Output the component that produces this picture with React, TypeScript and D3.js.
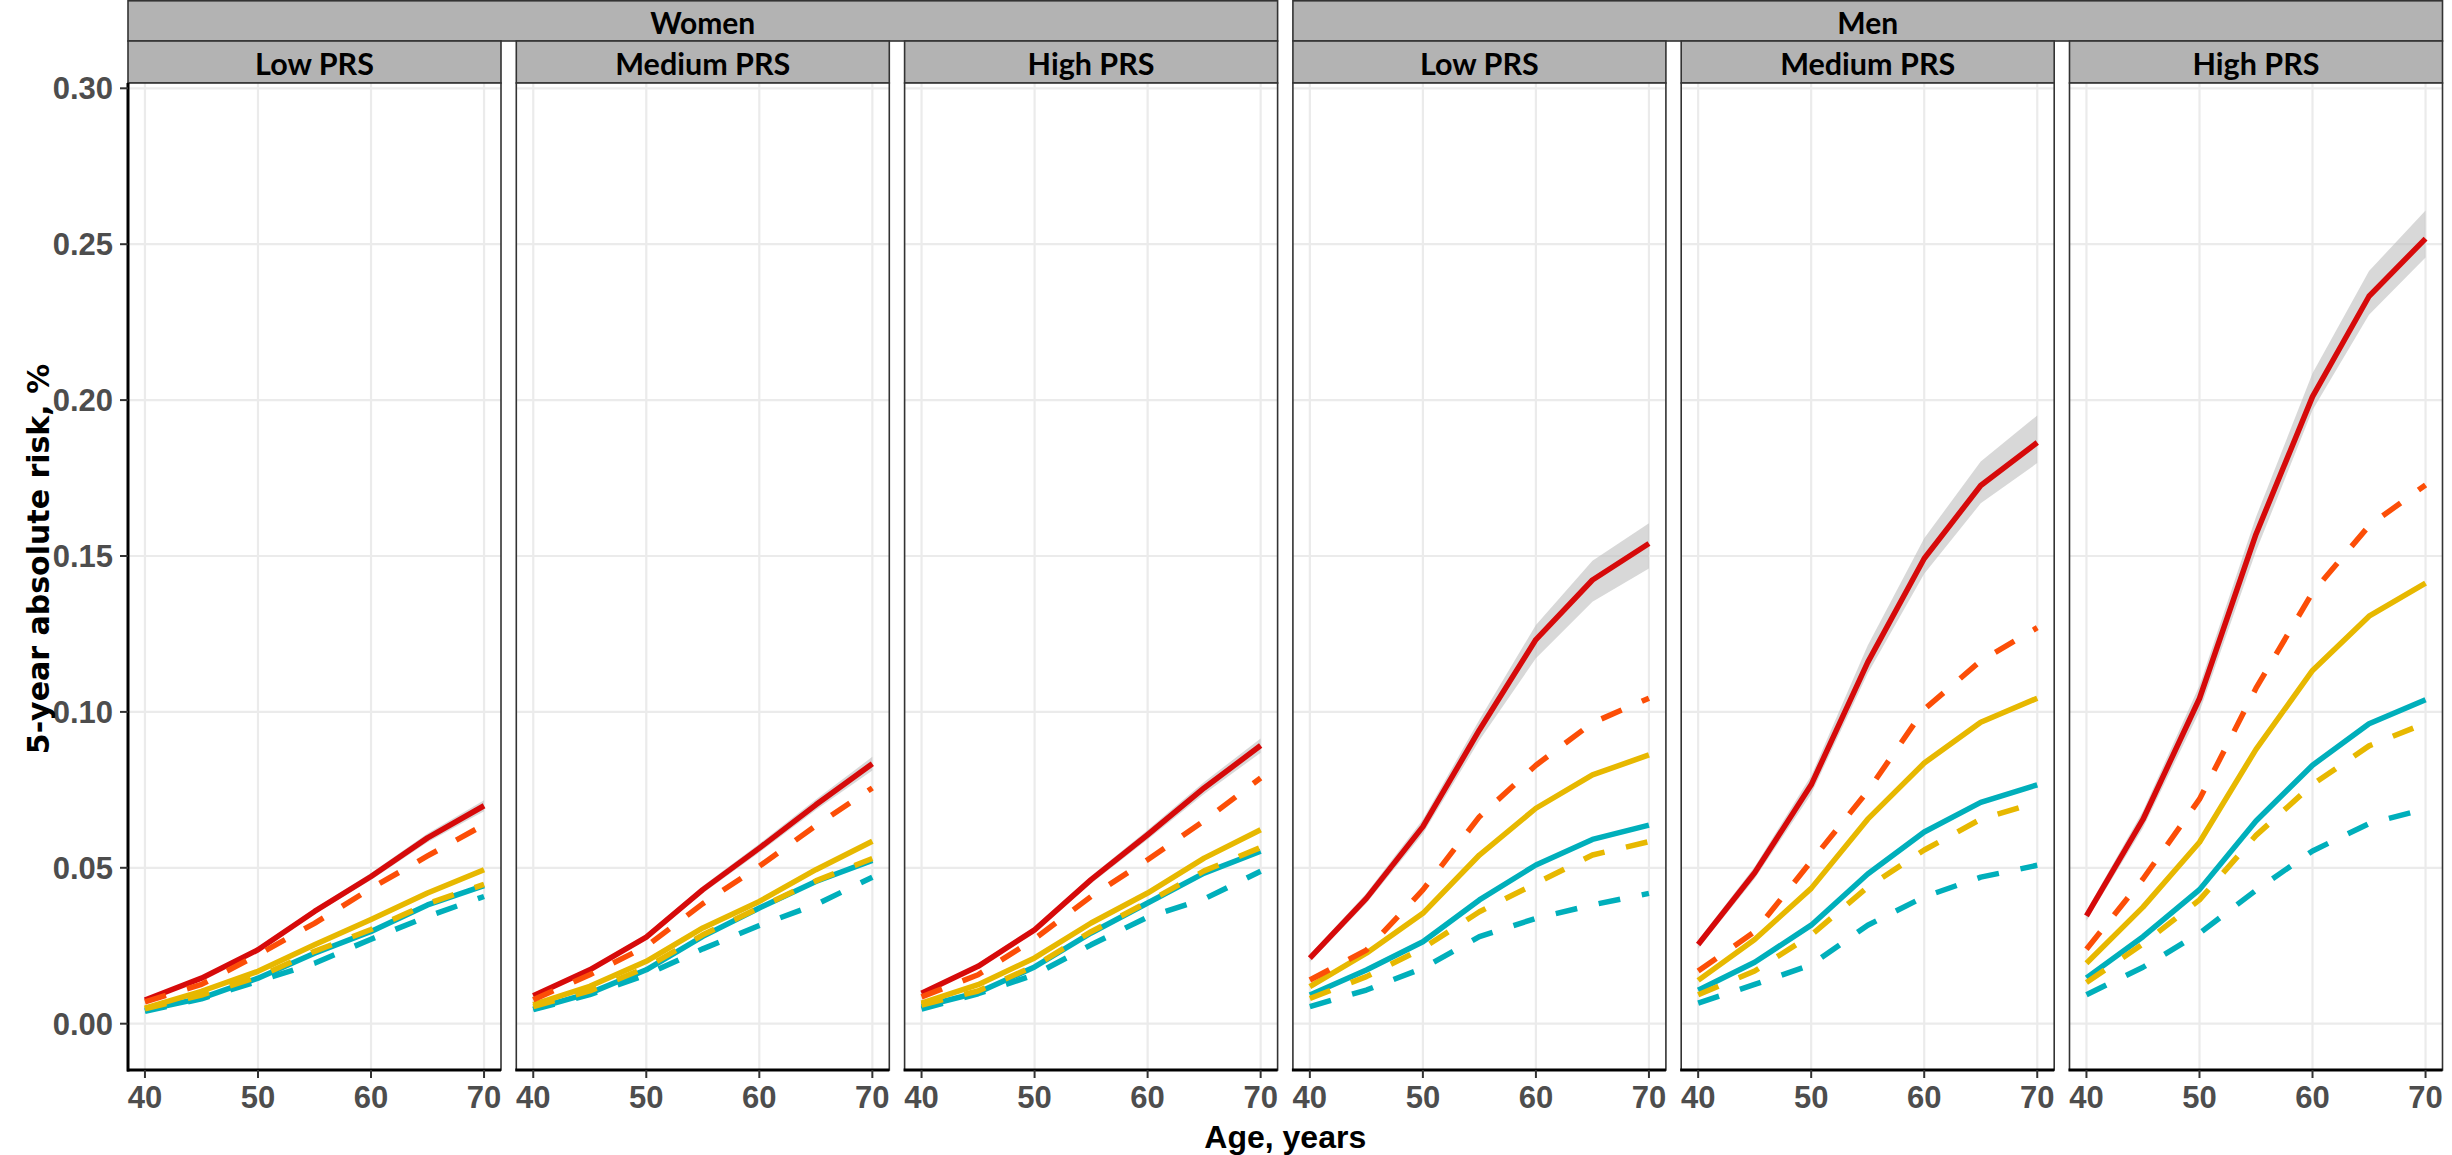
import React from 'react';
import * as d3 from 'd3';

// ages at which the 5-year risk was estimated
const ages = [40, 45, 50, 55, 60, 65, 70];
const sexes = ['Women', 'Men'];
const prsLevels = ['Low PRS', 'Medium PRS', 'High PRS'];
const xTicks = [40, 50, 60, 70];
const yTicks = [0, 0.05, 0.1, 0.15, 0.2, 0.25, 0.3];

// one row per panel: Women Low, Women Medium, Women High, Men Low, Men Medium, Men High
const redSolid = [
  [0.0076, 0.0146, 0.0237, 0.036, 0.0472, 0.0596, 0.0699],
  [0.009, 0.0173, 0.0278, 0.043, 0.0563, 0.0702, 0.0834],
  [0.0098, 0.0184, 0.0301, 0.0462, 0.0606, 0.0756, 0.0892],
  [0.021, 0.0402, 0.0632, 0.0942, 0.1232, 0.1423, 0.154],
  [0.0254, 0.0484, 0.0766, 0.1159, 0.1492, 0.1726, 0.1864],
  [0.0346, 0.0655, 0.1043, 0.157, 0.2011, 0.2333, 0.2518],
];
const redHi = [
  [0.0082, 0.0153, 0.0245, 0.0369, 0.0483, 0.061, 0.0717],
  [0.0096, 0.018, 0.0287, 0.0442, 0.0577, 0.0719, 0.0856],
  [0.0104, 0.0192, 0.031, 0.0474, 0.0621, 0.0775, 0.0915],
  [0.0222, 0.0418, 0.0655, 0.0975, 0.1279, 0.1485, 0.1605],
  [0.0268, 0.0503, 0.0795, 0.1213, 0.1557, 0.1803, 0.1951],
  [0.0362, 0.0682, 0.1085, 0.1625, 0.2086, 0.2414, 0.2608],
];
const redLo = [
  [0.0071, 0.014, 0.023, 0.0352, 0.0461, 0.0582, 0.0681],
  [0.0084, 0.0166, 0.0269, 0.0418, 0.0549, 0.0685, 0.0812],
  [0.0092, 0.0176, 0.0292, 0.045, 0.0591, 0.0737, 0.0869],
  [0.0198, 0.0386, 0.0609, 0.0909, 0.1172, 0.1353, 0.146],
  [0.024, 0.0465, 0.0737, 0.1123, 0.1443, 0.1669, 0.1798],
  [0.033, 0.0628, 0.1001, 0.1515, 0.1968, 0.2274, 0.2457],
];
const orangeDashed = [
  [0.007, 0.0126, 0.0221, 0.0322, 0.0434, 0.0538, 0.0638],
  [0.0077, 0.0157, 0.0248, 0.0385, 0.0505, 0.0635, 0.0756],
  [0.0086, 0.0157, 0.0272, 0.0408, 0.0526, 0.0651, 0.0788],
  [0.014, 0.0236, 0.0429, 0.0664, 0.0829, 0.0965, 0.1044],
  [0.0169, 0.0295, 0.0521, 0.0746, 0.1008, 0.1164, 0.127],
  [0.0239, 0.0464, 0.072, 0.1076, 0.1383, 0.1597, 0.1728],
];
const yellowSolid = [
  [0.005, 0.0104, 0.0168, 0.0253, 0.0334, 0.0419, 0.0494],
  [0.0061, 0.012, 0.02, 0.0307, 0.0392, 0.0494, 0.0585],
  [0.0066, 0.0125, 0.0211, 0.0323, 0.0419, 0.0531, 0.0622],
  [0.0119, 0.0226, 0.0354, 0.0541, 0.0691, 0.0798, 0.0862],
  [0.0139, 0.027, 0.0434, 0.0656, 0.0836, 0.0967, 0.1044],
  [0.0194, 0.0374, 0.0582, 0.088, 0.1133, 0.1307, 0.1413],
];
const yellowDashed = [
  [0.0048, 0.0092, 0.015, 0.0232, 0.0302, 0.0385, 0.0447],
  [0.0055, 0.0105, 0.018, 0.0285, 0.0372, 0.0458, 0.053],
  [0.006, 0.0105, 0.0185, 0.0295, 0.039, 0.049, 0.0565],
  [0.0081, 0.0151, 0.0242, 0.0359, 0.045, 0.0541, 0.0584],
  [0.0093, 0.0169, 0.0284, 0.0438, 0.0557, 0.0656, 0.071],
  [0.0132, 0.0256, 0.0397, 0.0604, 0.0767, 0.0891, 0.0964],
];
const tealSolid = [
  [0.0043, 0.0082, 0.0146, 0.0226, 0.0296, 0.0381, 0.0443],
  [0.0047, 0.0098, 0.0173, 0.028, 0.0371, 0.0456, 0.0524],
  [0.0054, 0.01, 0.0182, 0.0291, 0.0387, 0.0483, 0.0553],
  [0.0092, 0.0172, 0.0263, 0.0397, 0.0509, 0.0591, 0.0637],
  [0.0107, 0.0197, 0.0316, 0.048, 0.0615, 0.071, 0.0766],
  [0.0147, 0.0279, 0.043, 0.065, 0.0829, 0.0962, 0.1039],
];
const tealDashed = [
  [0.004, 0.008, 0.0136, 0.0194, 0.0271, 0.0344, 0.0408],
  [0.0045, 0.0093, 0.0157, 0.024, 0.0315, 0.0382, 0.047],
  [0.0047, 0.0096, 0.0157, 0.0253, 0.0342, 0.04, 0.0489],
  [0.0055, 0.0108, 0.0178, 0.0279, 0.0338, 0.0381, 0.0418],
  [0.0066, 0.0126, 0.0189, 0.0316, 0.0407, 0.047, 0.0508],
  [0.0093, 0.0181, 0.029, 0.0428, 0.0554, 0.0642, 0.0689],
];

// drawing order: bottom first
const series = [
  { values: tealDashed, color: '#00AFBB', dashed: true },
  { values: tealSolid, color: '#00AFBB', dashed: false },
  { values: yellowDashed, color: '#E7B800', dashed: true },
  { values: yellowSolid, color: '#E7B800', dashed: false },
  { values: redSolid, color: '#D60A0A', dashed: false },
  { values: orangeDashed, color: '#FC4E07', dashed: true },
];

const W = 2452;
const H = 1155;
const left = 128;
const panelW = 373;
const step = 388.3;
const outerTop = 0;
const innerTop = 41;
const panelTop = 83;
const panelBottom = 1070;

const tickFont = "'Liberation Sans', Arial, sans-serif";
const yTitleFont = "'DejaVu Sans', Verdana, sans-serif";
const stripFont = "Lato, 'Open Sans', sans-serif";

export default function App() {
  const y = d3.scaleLinear().domain([-0.01485, 0.3017]).range([panelBottom, panelTop]);
  const panels = d3.range(6);

  const xFor = (i: number) =>
    d3.scaleLinear().domain([38.5, 71.5]).range([left + i * step, left + i * step + panelW]);

  return (
    <svg width={W} height={H} style={{ position: 'absolute', left: 0, top: 0, background: '#fff' }}>
      {/* outer strips: sex */}
      {sexes.map((s, k) => {
        const x0 = left + k * 3 * step;
        const x1 = left + (k * 3 + 2) * step + panelW;
        return (
          <g key={s}>
            <rect x={x0} y={outerTop + 0.8} width={x1 - x0} height={innerTop - outerTop - 0.8}
              fill="#B3B3B3" stroke="#333" strokeWidth={1.6} />
            <text x={(x0 + x1) / 2} y={(outerTop + innerTop) / 2 + 1} textAnchor="middle"
              dominantBaseline="central" fontFamily={stripFont} fontWeight="bold" fontSize={30}>{s}</text>
          </g>
        );
      })}
      {panels.map(i => {
        const x = xFor(i);
        const x0 = left + i * step;
        const line = d3.line<number>().x((_, j) => x(ages[j])).y(d => y(d));
        const area = d3.area<number>()
          .x((_, j) => x(ages[j]))
          .y0((_, j) => y(redLo[i][j]))
          .y1(d => y(d));
        return (
          <g key={i}>
            {/* inner strip: PRS */}
            <rect x={x0} y={innerTop} width={panelW} height={panelTop - innerTop}
              fill="#B3B3B3" stroke="#333" strokeWidth={1.6} />
            <text x={x0 + panelW / 2} y={(innerTop + panelTop) / 2 + 1} textAnchor="middle"
              dominantBaseline="central" fontFamily={stripFont} fontWeight="bold" fontSize={30.5}>
              {prsLevels[i % 3]}
            </text>
            {/* grid */}
            <rect x={x0} y={panelTop} width={panelW} height={panelBottom - panelTop} fill="#fff" />
            {yTicks.map(t => (
              <line key={'gy' + t} x1={x0} x2={x0 + panelW} y1={y(t)} y2={y(t)} stroke="#EBEBEB" strokeWidth={2.2} />
            ))}
            {xTicks.map(t => (
              <line key={'gx' + t} x1={x(t)} x2={x(t)} y1={panelTop} y2={panelBottom} stroke="#EBEBEB" strokeWidth={2.2} />
            ))}
            {/* confidence band */}
            <path d={area(redHi[i]) || ''} fill="#BEBEBE" fillOpacity={0.6} />
            {series.map((s, k) => (
              <path key={k} d={line(s.values[i]) || ''} fill="none" stroke={s.color} strokeWidth={5.5}
                strokeDasharray={s.dashed ? '22 22' : undefined} strokeLinejoin="round" />
            ))}
            {/* panel border */}
            <rect x={x0} y={panelTop} width={panelW} height={panelBottom - panelTop}
              fill="none" stroke="#333" strokeWidth={1.6} />
            <line x1={x0 - 1} x2={x0 + panelW} y1={panelBottom} y2={panelBottom} stroke="#000" strokeWidth={3} />
            {i === 0 && (
              <line x1={x0} x2={x0} y1={panelTop} y2={panelBottom + 1.5} stroke="#000" strokeWidth={3} />
            )}
            {/* x axis */}
            {xTicks.map(t => (
              <g key={'xt' + t}>
                <line x1={x(t)} x2={x(t)} y1={panelBottom} y2={panelBottom + 8} stroke="#333" strokeWidth={2} />
                <text x={x(t)} y={panelBottom + 38} textAnchor="middle" fontFamily={tickFont}
                  fontWeight="bold" fontSize={31} fill="#4D4D4D">{t}</text>
              </g>
            ))}
          </g>
        );
      })}
      {/* y axis */}
      {yTicks.map(t => (
        <g key={'yt' + t}>
          <line x1={left - 8} x2={left} y1={y(t)} y2={y(t)} stroke="#333" strokeWidth={2} />
          <text x={left - 15} y={y(t) + 11} textAnchor="end" fontFamily={tickFont}
            fontWeight="bold" fontSize={31} fill="#4D4D4D">{t.toFixed(2)}</text>
        </g>
      ))}
      <text transform={`translate(49, 559) rotate(-90)`} textAnchor="middle"
        fontFamily={yTitleFont} fontWeight="bold" fontSize={30} fill="#000">5-year absolute risk, %</text>
      <text x={left + (5 * step + panelW) / 2} y={1148} textAnchor="middle" fontFamily={tickFont}
        fontWeight="bold" fontSize={32} fill="#000">Age, years</text>
    </svg>
  );
}
